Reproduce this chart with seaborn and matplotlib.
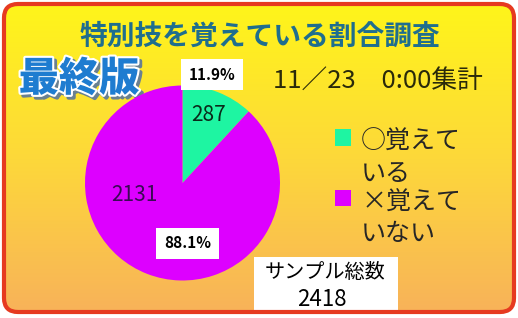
import matplotlib
matplotlib.use("Agg")
import matplotlib.pyplot as plt
import matplotlib.patheffects as pe
from matplotlib.patches import FancyBboxPatch, Rectangle
from matplotlib.colors import LinearSegmentedColormap
import numpy as np
import seaborn as sns

# ---- data ----
categories = ["○覚えて\nいる", "×覚えて\nいない"]
counts = [287, 2131]
percent_labels = ["11.9%", "88.1%"]
slice_colors = ["#1EF5A2", "#DD00FF"]
title = "特別技を覚えている割合調査"
badge = "最終版"
stamp = "11／23　0:00集計"
total_label = "サンプル総数"
total = 2418

sns.set_theme(style="white")
plt.rcParams["font.family"] = ["Noto Sans CJK JP", "DejaVu Sans"]

W, H = 518, 318
fig = plt.figure(figsize=(W / 100, H / 100), dpi=100)
fig.patch.set_facecolor("white")

bg = fig.add_axes([0, 0, 1, 1])
bg.set_xlim(0, W)
bg.set_ylim(H, 0)
bg.axis("off")

# gradient background clipped to rounded frame
frame = FancyBboxPatch((4, 4), W - 8, H - 10, boxstyle="round,pad=0,rounding_size=14",
                       fc="none", ec="#E63A20", lw=3, zorder=3)
cmap = LinearSegmentedColormap.from_list("bgc", ["#FFF51A", "#FDD83A", "#F8B25A"])
grad = np.linspace(0, 1, 256).reshape(-1, 1)
im = bg.imshow(grad, cmap=cmap, extent=(4, W - 4, H - 4, 4), aspect="auto", zorder=0)
clip = FancyBboxPatch((4, 4), W - 8, H - 10, boxstyle="round,pad=0,rounding_size=14",
                      fc="none", ec="none", transform=bg.transData)
bg.add_patch(clip)
im.set_clip_path(clip)
bg.add_patch(frame)
bg.set_xlim(0, W)
bg.set_ylim(H, 0)

bg.text(260, 37, title, ha="center", va="center", fontsize=20, color="#1F6E8E",
        fontweight="bold")
bg.text(79, 79, badge, ha="center", va="center", fontsize=29, color="#1E7CD0",
        fontweight="heavy",
        path_effects=[pe.Stroke(linewidth=3, foreground="#6a8090", offset=(2, -2)),
                      pe.Stroke(linewidth=3, foreground="white"), pe.Normal()])
bg.text(378, 81, stamp, ha="center", va="center", fontsize=18.5, color="#2A2A0A")

# sample box
bg.add_patch(Rectangle((254, 257), 144, 53, fc="white", ec="none", zorder=2))
bg.text(325, 273, total_label, ha="center", va="center", fontsize=14.5, color="black", zorder=3)
bg.text(322, 300, str(total), ha="center", va="center", fontsize=16, color="black", zorder=3)

# pie
pax = fig.add_axes([85 / W, (H - 280.5) / H, 195 / W, 195 / H])
wedges, _ = pax.pie(counts, colors=slice_colors, startangle=90, counterclock=False,
                    radius=1, wedgeprops=dict(linewidth=0))
pax.set_xlim(-1, 1)
pax.set_ylim(-1, 1)

pax.text(0.27, 0.70, str(counts[0]), ha="center", va="center", fontsize=15, color="#0A2A1A")
pax.text(-0.49, -0.12, str(counts[1]), ha="center", va="center", fontsize=15, color="#3A0A55")
box = dict(boxstyle="square,pad=0.5", fc="white", ec="none")
pax.text(0.30, 1.11, percent_labels[0], ha="center", va="center", fontsize=11,
         fontweight="bold", color="black", bbox=box)
pax.text(0.05, -0.62, percent_labels[1], ha="center", va="center", fontsize=11,
         fontweight="bold", color="black", bbox=box)

leg = fig.legend(wedges, categories, loc="upper left", bbox_to_anchor=(335 / W, 1 - 129 / H),
                 frameon=False, fontsize=18, handlelength=0.65, handleheight=0.65,
                 handletextpad=0.4, labelspacing=0.1, borderpad=0, borderaxespad=0)
for col in leg._legend_handle_box.get_children():
    for item in col.get_children():
        item.align = "top"
for t in leg.get_texts():
    t.set_linespacing(1.3)

fig.savefig("out.png", dpi=100, facecolor="white")
